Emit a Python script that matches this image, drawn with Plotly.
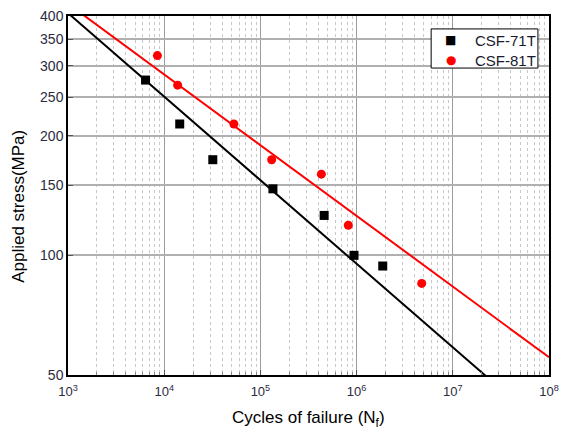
import numpy as np
import plotly.graph_objects as go

# Fatigue test results: cycles to failure and applied stress amplitude
cycles_71t = [6.4e3, 1.45e4, 3.2e4, 1.35e5, 4.6e5, 9.4e5, 1.87e6]
stress_71t = [276, 214, 174, 147, 126, 100, 94]

cycles_81t = [8.5e3, 1.38e4, 5.3e4, 1.31e5, 4.3e5, 8.2e5, 4.75e6]
stress_81t = [318, 268, 214, 174, 160, 119, 85]

# Basquin fit coefficients, S = A * N^b
fit_71t = {"A": 1738.0, "b": -0.2102}
fit_81t = {"A": 1468.0, "b": -0.1779}

series_names = ["CSF-71T", "CSF-81T"]
series_colors = ["black", "#ff0000"]
series_symbols = ["square", "circle"]
legend_glyphs = ["\u25A0", "\u25CF"]

x_major = [1e3, 1e4, 1e5, 1e6, 1e7, 1e8]
x_major_text = ["10<sup>%d</sup>" % k for k in range(3, 9)]
x_minor = [m * d for d in x_major[:-1] for m in range(2, 10)]
y_ticks = [50, 100, 150, 200, 250, 300, 350, 400]

n_line = np.array([1e3, 1e8])

fig = go.Figure()

for fit, color in zip([fit_71t, fit_81t], series_colors):
    fig.add_trace(go.Scatter(
        x=n_line, y=fit["A"] * n_line ** fit["b"],
        mode="lines", line=dict(color=color, width=2),
        showlegend=False, hoverinfo="skip"))

for xs, ys, name, color, sym in zip([cycles_71t, cycles_81t], [stress_71t, stress_81t],
                                    series_names, series_colors, series_symbols):
    fig.add_trace(go.Scatter(
        x=xs, y=ys, mode="markers", name=name, showlegend=False,
        marker=dict(symbol=sym, size=9, color=color)))

# Boxed legend in the upper-right corner of the plot area
fig.add_shape(type="rect", xref="paper", yref="paper",
              x0=0.755, x1=0.977, y0=0.855, y1=0.964,
              line=dict(color="black", width=1), fillcolor="white", layer="above")
key_rows = [0.933, 0.877]
for name, glyph, color, yr in zip(series_names, legend_glyphs, series_colors, key_rows):
    fig.add_annotation(x=0.796, y=yr, xref="paper", yref="paper", text=glyph,
                       showarrow=False, xanchor="center", yanchor="middle",
                       font=dict(family="DejaVu Sans", size=12, color=color))
    fig.add_annotation(x=0.842, y=yr, xref="paper", yref="paper", text=name,
                       showarrow=False, xanchor="left", yanchor="middle",
                       font=dict(size=15, color="#1a1a2e"))

# Axis titles
fig.add_annotation(text="Applied stress(MPa)", textangle=-90, x=-0.102, y=0.471,
                   xref="paper", yref="paper", showarrow=False,
                   xanchor="center", yanchor="middle",
                   font=dict(size=17, color="black"))
fig.add_annotation(text="Cycles of failure (N<sub>f</sub>)", x=0.5, y=-0.1226,
                   xref="paper", yref="paper", showarrow=False,
                   xanchor="center", yanchor="middle",
                   font=dict(size=17, color="black"))

tick_font_y = dict(family="Liberation Sans, Arial, sans-serif", size=14, color="#2b2b40")
tick_font_x = dict(family="Liberation Sans, Arial, sans-serif", size=13, color="#2b2b40")

fig.update_layout(
    width=567, height=431,
    margin=dict(l=68, r=18, t=16, b=56, autoexpand=False),
    paper_bgcolor="white", plot_bgcolor="white",
    font=dict(family="Liberation Sans, Arial, sans-serif", color="black"),
    xaxis=dict(
        type="log", range=[3, 8], automargin=False,
        tickvals=x_major, ticktext=x_major_text, tickfont=tick_font_x,
        ticklabelstandoff=4,
        showgrid=True, gridcolor="#9c9c9c", gridwidth=1,
        minor=dict(tickvals=x_minor, showgrid=True, gridcolor="#c8c8c8",
                   griddash="dot", gridwidth=1, ticks="inside", ticklen=3,
                   tickcolor="#888888"),
        ticks="inside", ticklen=5, tickcolor="#555555",
        showline=True, linecolor="black", linewidth=1.5, mirror=True,
        zeroline=False,
    ),
    yaxis=dict(
        type="log", range=[np.log10(50), np.log10(400)], automargin=False,
        tickvals=y_ticks, ticktext=[str(v) for v in y_ticks], tickfont=tick_font_y,
        showgrid=True, gridcolor="#b0b0b0", gridwidth=1.5,
        ticks="inside", ticklen=5, tickcolor="#555555",
        showline=True, linecolor="black", linewidth=1.5, mirror=True,
        zeroline=False,
    ),
)

fig.write_html("out.html")
